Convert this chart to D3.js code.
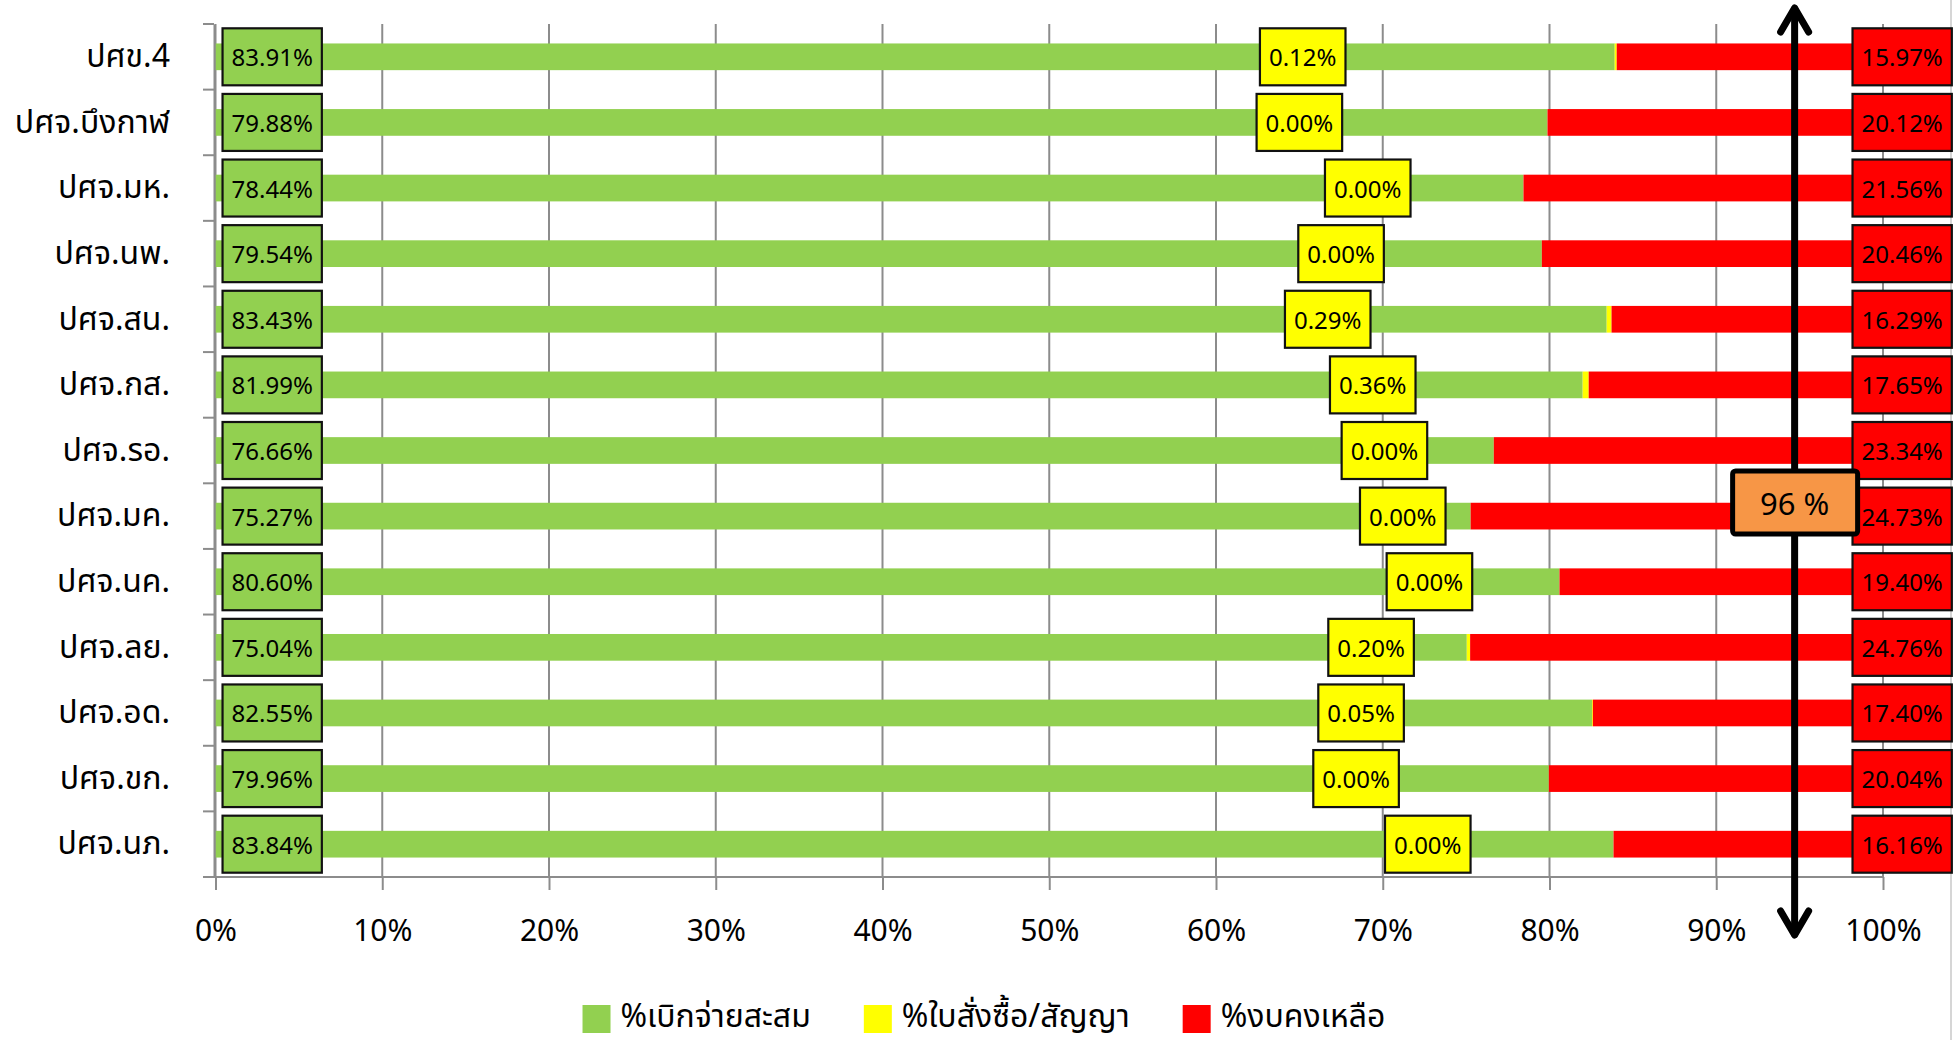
<!DOCTYPE html>
<html>
<head>
<meta charset="utf-8">
<script src="https://cdn.jsdelivr.net/npm/d3@7"></script>
<style>
  html, body { margin: 0; padding: 0; background: #fff; }
  svg { display: block; }
  text { font-family: "Noto Sans", "Noto Sans Thai", "DejaVu Sans", sans-serif; fill: #000; }
</style>
</head>
<body>
<div id="chart"></div>
<script>
// ---------- data ----------
const categories = ["ปศข.4", "ปศจ.บึงกาฬ", "ปศจ.มห.", "ปศจ.นพ.", "ปศจ.สน.", "ปศจ.กส.", "ปศจ.รอ.",
                    "ปศจ.มค.", "ปศจ.นค.", "ปศจ.ลย.", "ปศจ.อด.", "ปศจ.ขก.", "ปศจ.นภ."];
const disbursed = [83.91, 79.88, 78.44, 79.54, 83.43, 81.99, 76.66, 75.27, 80.60, 75.04, 82.55, 79.96, 83.84];
const committed = [0.12, 0.00, 0.00, 0.00, 0.29, 0.36, 0.00, 0.00, 0.00, 0.20, 0.05, 0.00, 0.00];
const remaining = [15.97, 20.12, 21.56, 20.46, 16.29, 17.65, 23.34, 24.73, 19.40, 24.76, 17.40, 20.04, 16.16];
// where the (hand-placed) yellow data labels sit, in axis percent
const committedLabelAt = [65.2, 65.0, 69.1, 67.5, 66.7, 69.4, 70.1, 71.2, 72.8, 69.3, 68.7, 68.4, 72.7];
const seriesNames = ["%เบิกจ่ายสะสม", "%ใบสั่งซื้อ/สัญญา", "%งบคงเหลือ"];
const seriesColors = ["#92D050", "#FFFF00", "#FF0000"];
const xTicks = [0, 10, 20, 30, 40, 50, 60, 70, 80, 90, 100];
const targetLabel = "96 %";
const targetAt = 94.7;
const disbursedLabelAt = 3.4;
const remainingLabelAt = 101.15;

// ---------- layout ----------
const W = 1957, H = 1040;
const svg = d3.select("#chart").append("svg").attr("width", W).attr("height", H);

const x = d3.scaleLinear().domain([0, 100]).range([215.5, 1883]);
const y = d3.scaleBand().domain(categories).range([24, 877]).paddingInner(0.593).paddingOuter(0.2965);
const step = y.step();
const yc = c => y(c) + y.bandwidth() / 2;

const rows = categories.map((c, i) => ({
  c, g: disbursed[i], yv: committed[i], r: remaining[i], yAt: committedLabelAt[i]
}));

// chart border at right
svg.append("line").attr("x1", 1951).attr("x2", 1951).attr("y1", 0).attr("y2", H)
  .attr("stroke", "#c8c8c8").attr("stroke-width", 1.5);

// gridlines
svg.append("g").selectAll("line").data(xTicks).join("line")
  .attr("x1", d => x(d)).attr("x2", d => x(d))
  .attr("y1", y.range()[0]).attr("y2", y.range()[1])
  .attr("stroke", "#8c8c8c").attr("stroke-width", 2);

// bars
const bars = svg.append("g");
bars.selectAll("rect.g").data(rows).join("rect").attr("class", "g")
  .attr("x", x(0)).attr("width", d => x(d.g) - x(0))
  .attr("y", d => y(d.c)).attr("height", y.bandwidth()).attr("fill", seriesColors[0]);
bars.selectAll("rect.y").data(rows).join("rect").attr("class", "y")
  .attr("x", d => x(d.g)).attr("width", d => x(d.g + d.yv) - x(d.g))
  .attr("y", d => y(d.c)).attr("height", y.bandwidth()).attr("fill", seriesColors[1]);
bars.selectAll("rect.r").data(rows).join("rect").attr("class", "r")
  .attr("x", d => x(d.g + d.yv)).attr("width", d => x(100) - x(d.g + d.yv))
  .attr("y", d => y(d.c)).attr("height", y.bandwidth()).attr("fill", seriesColors[2]);

// x axis
const xAxis = svg.append("g").attr("transform", `translate(0,${y.range()[1]})`)
  .call(d3.axisBottom(x).tickValues(xTicks).tickFormat(d => d + "%").tickSize(13).tickPadding(30));
xAxis.select(".domain").attr("stroke", "#8c8c8c").attr("stroke-width", 2)
  .attr("d", `M${x(0) - 12},0H${x(100)}`);
xAxis.selectAll(".tick line").attr("stroke", "#8c8c8c").attr("stroke-width", 2);
xAxis.selectAll(".tick text").attr("font-size", 30).attr("fill", "#000")
  .style("font-family", '"Noto Sans", sans-serif');

// y axis
const yAxis = svg.append("g").attr("transform", `translate(${x(0) - 1.5},0)`)
  .call(d3.axisLeft(y).tickSize(0).tickPadding(44));
yAxis.select(".domain").attr("stroke", "#8c8c8c").attr("stroke-width", 2);
yAxis.selectAll(".tick text").attr("font-size", 32).attr("fill", "#000")
  .style("font-family", '"Noto Sans", "Noto Sans Thai", sans-serif');
const bounds = categories.map(c => y(c) - step * y.paddingInner() / 2).concat([y.range()[1]]);
yAxis.append("g").selectAll("line").data(bounds).join("line")
  .attr("x1", -11).attr("x2", 0).attr("y1", d => d).attr("y2", d => d)
  .attr("stroke", "#8c8c8c").attr("stroke-width", 2);

// data label boxes
function labelBox(g, cx, cy, txt, fill) {
  const grp = g.append("g");
  const rect = grp.append("rect");
  const t = grp.append("text").attr("x", cx).attr("y", cy).attr("text-anchor", "middle")
    .attr("dominant-baseline", "central").attr("font-size", 24).text(txt);
  const w = t.node().getComputedTextLength() + 18;
  const h = 57;
  rect.attr("x", cx - w / 2).attr("y", cy - h / 2).attr("width", w).attr("height", h)
    .attr("fill", fill).attr("stroke", "#111").attr("stroke-width", 2.2);
}
const labels = svg.append("g");
rows.forEach(d => {
  labelBox(labels, x(disbursedLabelAt), yc(d.c), d.g.toFixed(2) + "%", seriesColors[0]);
  labelBox(labels, x(d.yAt), yc(d.c), d.yv.toFixed(2) + "%", seriesColors[1]);
  labelBox(labels, x(remainingLabelAt), yc(d.c), d.r.toFixed(2) + "%", seriesColors[2]);
});

// target arrow
const ax = x(targetAt);
const arrow = svg.append("g").attr("stroke", "#000").attr("fill", "none")
  .attr("stroke-linecap", "round").attr("stroke-linejoin", "round");
arrow.append("line").attr("x1", ax).attr("x2", ax).attr("y1", 9).attr("y2", 934).attr("stroke-width", 7);
arrow.append("polyline").attr("points", `${ax - 14},32 ${ax},8 ${ax + 14},32`).attr("stroke-width", 7);
arrow.append("polyline").attr("points", `${ax - 14},911 ${ax},935 ${ax + 14},911`).attr("stroke-width", 7);

// target label box
const tb = svg.append("g");
tb.append("rect").attr("x", ax - 62).attr("y", 471).attr("width", 125).attr("height", 63)
  .attr("rx", 3).attr("fill", "#F79646").attr("stroke", "#000").attr("stroke-width", 5);
tb.append("text").attr("x", ax).attr("y", 502.5).attr("text-anchor", "middle")
  .attr("dominant-baseline", "central").attr("font-size", 31).text(targetLabel);

// legend
const legend = svg.append("g");
let lx = 0;
seriesNames.forEach((n, i) => {
  const g = legend.append("g").attr("transform", `translate(${lx},0)`);
  g.append("rect").attr("x", 0).attr("y", -22).attr("width", 28).attr("height", 28).attr("fill", seriesColors[i]);
  const t = g.append("text").attr("x", 38).attr("y", 0).attr("font-size", 32).text(n);
  const w = 38 + t.node().getComputedTextLength();
  lx += w + 53;
});
const totalW = lx - 53;
legend.attr("transform", `translate(${984 - totalW / 2},1027)`);
</script>
</body>
</html>
